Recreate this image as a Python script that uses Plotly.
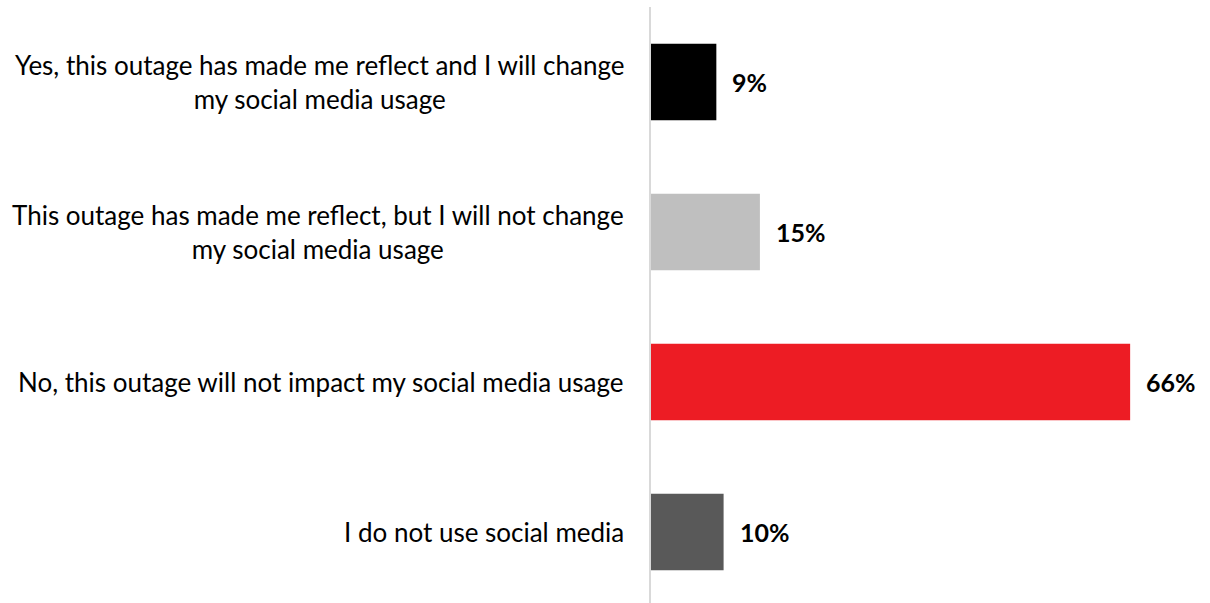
import plotly.graph_objects as go

categories = [
    "Yes, this outage has made me reflect and I will change<br>my social media usage",
    "This outage has made me reflect, but I will not change<br>my social media usage",
    "No, this outage will not impact my social media usage",
    "I do not use social media",
]
values = [9, 15, 66, 10]
bar_colors = ["#000000", "#bfbfbf", "#ed1c24", "#595959"]

FONT = "Lato"

fig = go.Figure(
    go.Bar(
        x=values,
        y=categories,
        orientation="h",
        marker=dict(color=bar_colors, line=dict(width=0)),
        width=0.51,
        hoverinfo="skip",
    )
)

# category labels (centered multi-line text, right-aligned block)
for cat in categories:
    fig.add_annotation(
        x=0, y=cat, xref="x", yref="y",
        text=cat, showarrow=False,
        xanchor="right", yanchor="middle", align="center",
        xshift=-25,
        font=dict(family=FONT, size=26, color="#000000"),
    )

# value labels
for cat, v in zip(categories, values):
    fig.add_annotation(
        x=v, y=cat, xref="x", yref="y",
        text=f"<b>{v}%</b>", showarrow=False,
        xanchor="left", yanchor="middle",
        xshift=14,
        font=dict(family=FONT, size=25, color="#000000"),
    )

fig.update_layout(
    width=1210, height=603,
    margin=dict(l=651, r=0, t=7, b=0),
    plot_bgcolor="white", paper_bgcolor="white",
    showlegend=False,
    xaxis=dict(range=[0, 77], visible=False, fixedrange=True),
    yaxis=dict(
        range=[3.473, -0.5],
        showticklabels=False,
        showgrid=False,
        zeroline=False,
        showline=True, linecolor="#d9d9d9", linewidth=2,
        ticks="",
    ),
)

fig.write_html("out.html")
